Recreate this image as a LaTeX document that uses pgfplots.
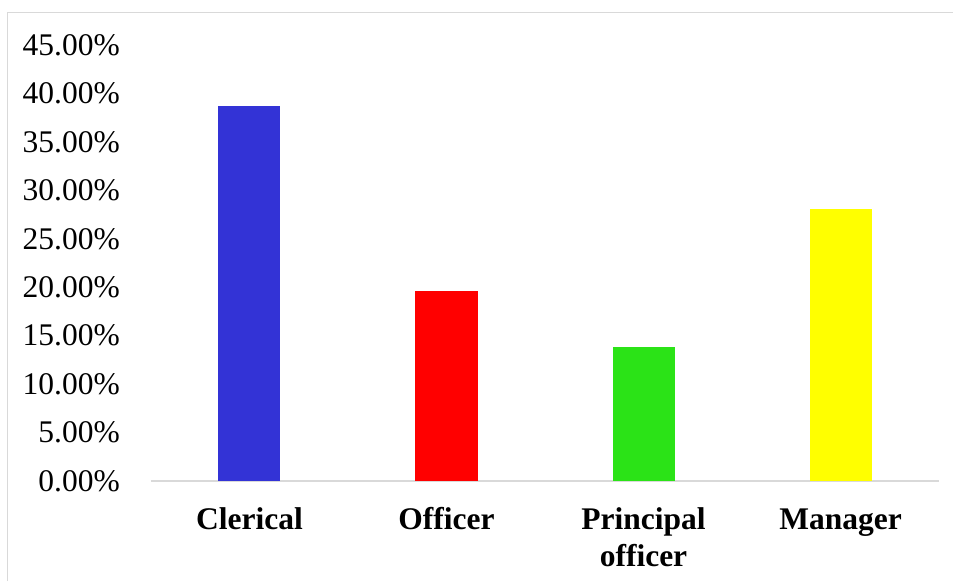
\documentclass[border=0pt]{standalone}
\usepackage{fontspec}
\setmainfont{Liberation Serif}
\usepackage{pgfplots}
\pgfplotsset{compat=1.18}
\definecolor{cblue}{RGB}{51,51,214}
\definecolor{cred}{RGB}{255,0,0}
\definecolor{cgreen}{RGB}{43,227,23}
\definecolor{cyellow}{RGB}{255,255,0}
\definecolor{lgray}{RGB}{217,217,217}
\begin{document}
\begin{tikzpicture}
\useasboundingbox (-151pt,-100pt) rectangle (802pt,481pt);
\draw[line width=1.5pt, color=lgray] (-143.5pt,-100pt) -- (-143.5pt,468.5pt) -- (802pt,468.5pt);
\begin{axis}[
  at={(0pt,0pt)}, anchor=south west,
  scale only axis, width=788pt, height=436pt,
  xmin=-0.5, xmax=3.5, ymin=0, ymax=45,
  axis x line*=bottom, axis y line*=left,
  y axis line style={draw=none},
  x axis line style={draw=lgray, line width=1.5pt, -},
  major tick length=0pt,
  ytick={0,5,...,45},
  yticklabel={\pgfmathprintnumber[fixed,fixed zerofill,precision=2]{\tick}\%},
  yticklabel style={anchor=east, inner sep=0pt, xshift=-31pt, font=\fontsize{31.5}{37}\selectfont, /pgf/number format/assume math mode=true},
  xtick={0,1,2,3},
  xticklabels={Clerical,\vphantom{l}Officer,{\vphantom{l}Principal\\officer},\vphantom{l}Manager},
  xticklabel style={anchor=north, inner sep=0pt, yshift=-26pt, align=center, font=\fontsize{31.5}{37}\selectfont\bfseries},
  ybar, bar width=62pt, bar shift=0pt,
]
\addplot[fill=cblue, draw=none] coordinates {(0,38.7)};
\addplot[fill=cred, draw=none] coordinates {(1,19.6)};
\addplot[fill=cgreen, draw=none] coordinates {(2,13.8)};
\addplot[fill=cyellow, draw=none] coordinates {(3,28.1)};
\end{axis}
\end{tikzpicture}
\end{document}
